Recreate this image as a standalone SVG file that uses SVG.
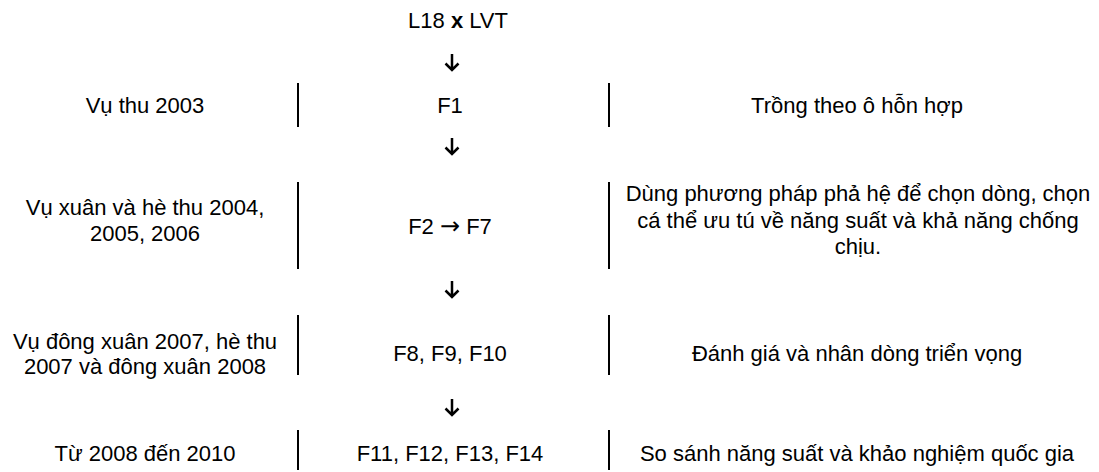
<svg xmlns="http://www.w3.org/2000/svg" width="1099" height="472" viewBox="0 0 1099 472">
<style>
text{font-family:"Liberation Sans",Arial,sans-serif;font-size:22px;fill:#000;text-anchor:middle}
.sym{font-family:"DejaVu Sans",sans-serif;font-size:24px}
.sep{stroke:#000;stroke-width:2}
.arr{stroke:#000;stroke-width:2.5;fill:none}
</style>
<rect width="1099" height="472" fill="#fff"/>
<g id="top"><text x="458" y="28">L18 <tspan font-weight="bold">x</tspan> LVT</text></g>
<g id="row1">
<text x="145" y="113">Vụ thu 2003</text>
<text x="450" y="113">F1</text>
<text x="857" y="113">Trồng theo ô hỗn hợp</text>
<line class="sep" x1="298" y1="83" x2="298" y2="127"/>
<line class="sep" x1="609" y1="83" x2="609" y2="127"/>
</g>
<g id="row2">
<text x="145" y="215">Vụ xuân và hè thu 2004,</text>
<text x="145" y="241">2005, 2006</text>
<text x="450" y="234">F2 <tspan class="sym">→</tspan> F7</text>
<text x="858" y="201">Dùng phương pháp phả hệ để chọn dòng, chọn</text>
<text x="858" y="228">cá thể ưu tú về năng suất và khả năng chống</text>
<text x="858" y="254">chịu.</text>
<line class="sep" x1="298" y1="182" x2="298" y2="269"/>
<line class="sep" x1="609" y1="182" x2="609" y2="269"/>
</g>
<g id="row3">
<text x="145" y="349">Vụ đông xuân 2007, hè thu</text>
<text x="145" y="374">2007 và đông xuân 2008</text>
<text x="450" y="361">F8, F9, F10</text>
<text x="857" y="361">Đánh giá và nhân dòng triển vọng</text>
<line class="sep" x1="298" y1="315" x2="298" y2="375"/>
<line class="sep" x1="609" y1="315" x2="609" y2="375"/>
</g>
<g id="row4">
<text x="145" y="461">Từ 2008 đến 2010</text>
<text x="450" y="461">F11, F12, F13, F14</text>
<text x="857" y="461">So sánh năng suất và khảo nghiệm quốc gia</text>
<line class="sep" x1="298" y1="430" x2="298" y2="470"/>
<line class="sep" x1="609" y1="430" x2="609" y2="470"/>
</g>
<g id="connectors">
<path class="arr" d="M452 54V70M445.5 63.5L452 70L458.5 63.5"/>
<path class="arr" d="M452 138V154M445.5 147.5L452 154L458.5 147.5"/>
<path class="arr" d="M452 281V297M445.5 290.5L452 297L458.5 290.5"/>
<path class="arr" d="M452 399V415M445.5 408.5L452 415L458.5 408.5"/>
</g>
</svg>
